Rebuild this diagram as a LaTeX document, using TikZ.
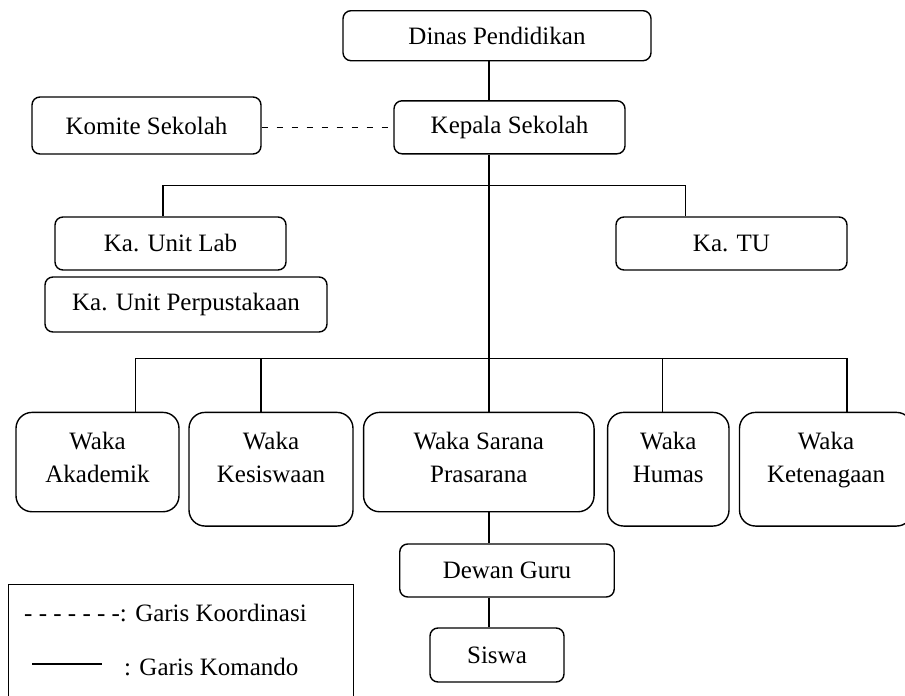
\documentclass[tikz,border=0pt]{standalone}
\usepackage{fontspec}
\setmainfont{Liberation Serif}
\usepackage{tikz}
\usetikzlibrary{positioning,calc}
\tikzset{
  jabatan/.style={rectangle,rounded corners=8pt,draw=black,line width=1.4pt,
                  font=\fontsize{25}{33}\selectfont,inner sep=0pt},
  waka/.style={jabatan,rounded corners=16pt,anchor=north,align=center,
               inner xsep=0pt,inner ysep=20pt,text depth=9pt},
  tinggi/.style={text depth=23.3pt},
  komando/.style={line width=1.3pt},
  koordinasi/.style={line width=1.3pt,dash pattern=on 6.5pt off 8.5pt},
}

\begin{document}
\begin{tikzpicture}[x=1pt,y=-1pt]
  \useasboundingbox (0,0) rectangle (905,696);
  \clip (0,0) rectangle (905,696);
  % pimpinan
  \node[jabatan,minimum width=308pt,minimum height=50pt] (dinas) at (497,35.7) {Dinas Pendidikan};
  \node[jabatan,minimum width=231pt,minimum height=53pt] (kepala) at (509.5,127.3) {Kepala Sekolah};
  \node[jabatan,minimum width=229pt,minimum height=57pt] (komite) at (146.5,125.5) {Komite Sekolah};
  \node[jabatan,minimum width=231pt,minimum height=53pt] (unitlab) at (170.5,243.5) {Ka. Unit Lab};
  \node[jabatan,minimum width=231pt,minimum height=53pt] (katu) at (731.5,243.5) {Ka. TU};
  \node[jabatan,minimum width=282pt,minimum height=55pt] (perpus) at (186,304.5) {Ka. Unit Perpustakaan};
  % wakil kepala
  \node[waka,minimum width=163pt] (akademik) at (97.5,411.7) {Waka\\Akademik};
  \node[waka,tinggi,minimum width=164pt] (kesiswaan) at (271,411.7) {Waka\\Kesiswaan};
  \node[waka,minimum width=230.5pt] (sarana) at (478.8,411.7) {Waka Sarana\\Prasarana};
  \node[waka,tinggi,minimum width=121.4pt] (humas) at (668.3,411.7) {Waka\\Humas};
  \node[waka,tinggi,minimum width=173pt] (ketenagaan) at (826,411.7) {Waka\\Ketenagaan};
  \node[jabatan,minimum width=214.5pt,minimum height=53pt] (dewan) at (507,570.5) {Dewan Guru};
  \node[jabatan,minimum width=134pt,minimum height=54pt] (siswa) at (497,655) {Siswa};

  \coordinate (bus1) at (489,185.7);
  \coordinate (bus2) at (489,358.7);
  \draw[komando] (dinas.south -| bus2) -- (kepala.north -| bus2);
  \draw[komando] (kepala.south -| bus2) -- (sarana.north -| bus2);
  \draw[koordinasi] (kepala.west -| komite.east) -- (kepala.west);
  \draw[komando] ([xshift=-7.5pt]unitlab.north) |- (bus1) -| ([xshift=-46pt]katu.north);
  \draw[komando] ([xshift=38pt]akademik.north) |- (bus2) -| ([xshift=21pt]ketenagaan.north);
  \foreach \n/\dx in {kesiswaan/-10,humas/-6}
    \draw[komando] ([xshift=\dx pt]\n.north) -- ([xshift=\dx pt]\n.north |- bus2);
  \draw[komando] (sarana.south -| bus2) -- (dewan.north -| bus2);
  \draw[komando] (dewan.south -| bus2) -- (siswa.north -| bus2);

  % keterangan
  \node[draw=black,line width=1.4pt,anchor=north west,minimum width=345pt,minimum height=150pt] (legenda) at (8,584) {};
  \node[anchor=base west,inner sep=0pt,font=\fontsize{25}{33}\selectfont] (ketkoord) at (24,621.5) {- - - - - - -: Garis Koordinasi};
  \coordinate (garisA) at (32,664);
  \coordinate (garisB) at (102,664);
  \draw[komando] (garisA) -- (garisB);
  \node[anchor=base west,inner sep=0pt,font=\fontsize{25}{33}\selectfont] (ketkomando) at (124,675.5) {: Garis Komando};
\end{tikzpicture}
\end{document}
